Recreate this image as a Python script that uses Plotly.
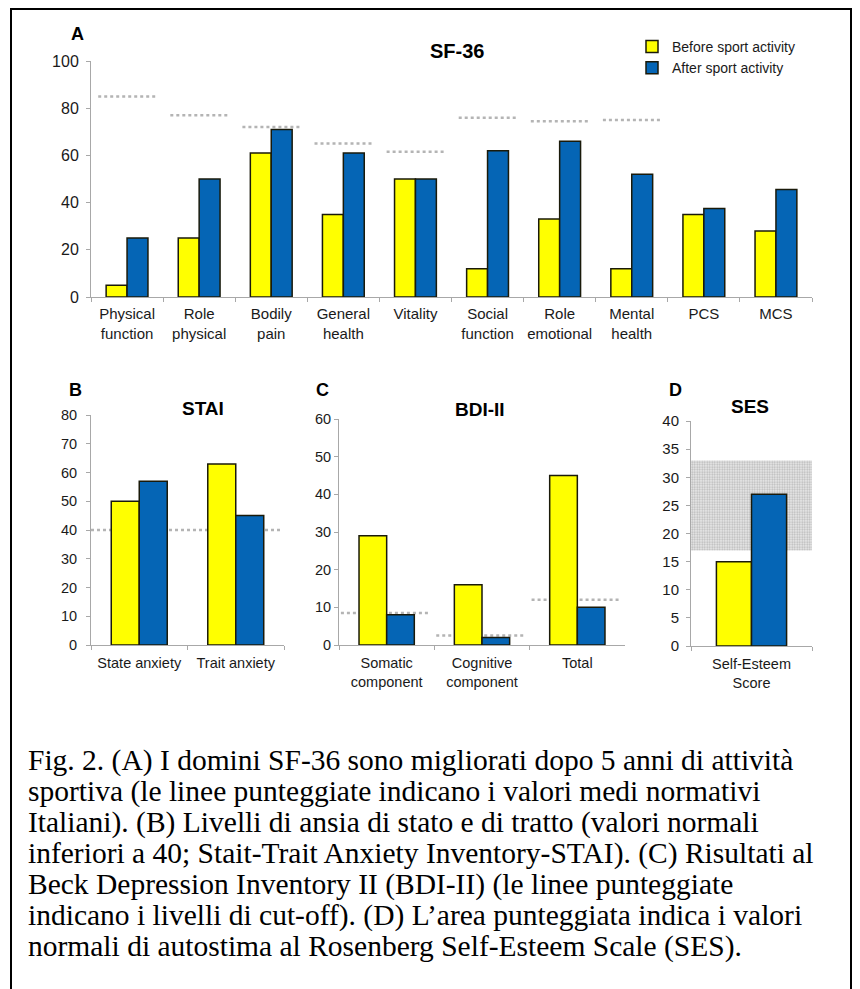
import plotly.graph_objects as go

# ---------------- data ----------------
sf_categories = ["Physical<br>function", "Role<br>physical", "Bodily<br>pain", "General<br>health",
                 "Vitality", "Social<br>function", "Role<br>emotional", "Mental<br>health", "PCS", "MCS"]
sf_before = [5, 25, 61, 35, 50, 12, 33, 12, 35, 28]
sf_after = [25, 50, 71, 61, 50, 62, 66, 52, 37.5, 45.5]
sf_norm = [85, 77, 72, 65, 61.5, 76, 74.5, 75, None, None]

stai_categories = ["State anxiety", "Trait anxiety"]
stai_before = [50, 63]
stai_after = [57, 45]
stai_normal = 40

bdi_categories = ["Somatic<br>component", "Cognitive<br>component", "Total"]
bdi_before = [29, 16, 45]
bdi_after = [8, 2, 10]
bdi_cutoff = [8.5, 2.5, 12]

ses_categories = ["Self-Esteem<br>Score"]
ses_before = [15]
ses_after = [27]
ses_normal_range = [17, 33]

series_names = ["Before sport activity", "After sport activity"]
caption_lines = [
    "Fig. 2. (A) I domini SF-36 sono migliorati dopo 5 anni di attività",
    "sportiva (le linee punteggiate indicano i valori medi normativi",
    "Italiani). (B) Livelli di ansia di stato e di tratto (valori normali",
    "inferiori a 40; Stait-Trait Anxiety Inventory-STAI). (C) Risultati al",
    "Beck Depression Inventory II (BDI-II) (le linee punteggiate",
    "indicano i livelli di cut-off). (D) L’area punteggiata indica i valori",
    "normali di autostima al Rosenberg Self-Esteem Scale (SES).",
]

# ---------------- style ----------------
PAGE_OFF = 8          # default body margin of the html page
W, H = 852, 981
YELLOW = "#FFFF00"
BLUE = "#0565B5"
EDGE = "#1a1a0a"
AXIS = "#a8a8a8"
NORM = "#b4b4b4"
SANS = "Liberation Sans, Arial, sans-serif"
SERIF = "Liberation Serif, Times New Roman, serif"


def px_x(p):
    return (p - PAGE_OFF) / W


def px_y(p):
    return 1 - (p - PAGE_OFF) / H


fig = go.Figure()

# name, xaxis, yaxis, cats, before, after, x px range, y px (bottom, top), yrange, dtick,
# y tick size, x tick size, y label standoff, x label standoff
panels = [
    ("A", "x", "y", sf_categories, sf_before, sf_after, (91, 812), (297, 61), [0, 100], 20, 16, 15, 4, 3),
    ("B", "x2", "y2", stai_categories, stai_before, stai_after, (91, 284), (645, 415), [0, 80], 10, 14.5, 14.5, 6, 5),
    ("C", "x3", "y3", bdi_categories, bdi_before, bdi_after, (339, 625), (645, 419), [0, 60], 10, 14.5, 14.5, 0, 5),
    ("D", "x4", "y4", ses_categories, ses_before, ses_after, (691, 812), (646, 421), [0, 40], 5, 15, 14.5, 4, 5),
]

# shaded normal range of SES (drawn first, below the bars)
fig.add_trace(go.Bar(
    x=ses_categories, y=[ses_normal_range[1] - ses_normal_range[0]], base=[ses_normal_range[0]],
    width=[1.0], offset=-0.5, xaxis="x4", yaxis="y4", showlegend=False, hoverinfo="skip",
    marker=dict(color="rgba(255,255,255,0)", line=dict(width=0),
                pattern=dict(shape=".", fgcolor="#858585", bgcolor="#ebebeb", size=2.5, solidity=0.45)),
))

layout_axes = {}
for i, (name, xa, ya, cats, before, after, xr, yr, yrange, dtick, yfs, xfs, ysd, xsd) in enumerate(panels):
    for vals, col, sname in ((before, YELLOW, series_names[0]), (after, BLUE, series_names[1])):
        fig.add_trace(go.Bar(
            x=cats, y=vals, name=sname, xaxis=xa, yaxis=ya,
            marker=dict(color=col, line=dict(color=EDGE, width=1.5)),
            showlegend=(i == 0), legendgroup=sname,
        ))
    xkey = "xaxis" if xa == "x" else "xaxis" + xa[1:]
    ykey = "yaxis" if ya == "y" else "yaxis" + ya[1:]
    layout_axes[xkey] = dict(
        domain=[px_x(xr[0]), px_x(xr[1])], anchor=ya, type="category",
        showline=True, linecolor=AXIS, linewidth=1, ticks="outside", tickson="boundaries",
        ticklen=4, tickcolor=AXIS, showgrid=False, zeroline=False, tickangle=0,
        ticklabelstandoff=xsd,
        tickfont=dict(family=SANS, size=xfs, color="#1a1a1a"),
        range=[-0.5, len(cats) - 0.5],
    )
    layout_axes[ykey] = dict(
        domain=[px_y(yr[0]), px_y(yr[1])], anchor=xa, range=yrange, dtick=dtick,
        showline=True, linecolor=AXIS, linewidth=1, ticks="outside", ticklen=4, tickcolor=AXIS,
        showgrid=False, zeroline=False, ticklabelstandoff=ysd,
        tickfont=dict(family=SANS, size=yfs, color="#1a1a1a"),
    )

shapes = []
# SF-36 normative lines
for j, v in enumerate(sf_norm):
    if v is None:
        continue
    shapes.append(dict(type="line", xref="x", yref="y", x0=j - 0.4, x1=j + 0.4, y0=v, y1=v,
                       line=dict(color=NORM, width=2.5, dash="dot"), layer="below"))
# STAI normal limit
shapes.append(dict(type="line", xref="x2", yref="y2", x0=-0.5, x1=len(stai_categories) - 0.54,
                   y0=stai_normal, y1=stai_normal,
                   line=dict(color=NORM, width=2.5, dash="dot"), layer="below"))
# BDI cut-offs
for j, v in enumerate(bdi_cutoff):
    shapes.append(dict(type="line", xref="x3", yref="y3", x0=j - 0.48, x1=j + 0.45, y0=v, y1=v,
                       line=dict(color=NORM, width=2.5, dash="dot"), layer="below"))
# outer frame
shapes.append(dict(type="rect", xref="paper", yref="paper", x0=px_x(11), x1=px_x(851),
                   y0=-0.02, y1=px_y(9), line=dict(color="black", width=2), layer="above"))

annotations = []
for letter, xp, yp in (("A", 77, 34), ("B", 75, 390), ("C", 322, 390), ("D", 675, 390)):
    annotations.append(dict(text="<b>%s</b>" % letter, x=px_x(xp), y=px_y(yp), xref="paper", yref="paper",
                            xanchor="center", yanchor="middle",
                            showarrow=False, font=dict(family=SANS, size=18, color="black")))
for title, xp, yp, fs in (("SF-36", 457, 51, 20), ("STAI", 203, 408, 19), ("BDI-II", 480, 409, 19),
                          ("SES", 750, 407, 19)):
    annotations.append(dict(text="<b>%s</b>" % title, x=px_x(xp), y=px_y(yp), xref="paper", yref="paper",
                            xanchor="center", yanchor="middle",
                            showarrow=False, font=dict(family=SANS, size=fs, color="black")))
for k, line in enumerate(caption_lines):
    annotations.append(dict(text=line, x=px_x(26), y=px_y(760 + 31 * k), xref="paper", yref="paper",
                            xanchor="left", yanchor="middle", align="left", showarrow=False,
                            font=dict(family=SERIF, size=29.5, color="black")))

fig.update_layout(
    width=W, height=H, margin=dict(l=0, r=0, t=0, b=0, autoexpand=False),
    paper_bgcolor="white", plot_bgcolor="white",
    barmode="group", bargap=0.42, bargroupgap=0,
    showlegend=True,
    legend=dict(x=px_x(632), y=px_y(31), xanchor="left", yanchor="top",
                font=dict(family=SANS, size=14, color="#1a1a1a"),
                bgcolor="rgba(0,0,0,0)", tracegroupgap=9, traceorder="normal"),
    shapes=shapes, annotations=annotations,
    **layout_axes,
)

fig.write_html("out.html")
